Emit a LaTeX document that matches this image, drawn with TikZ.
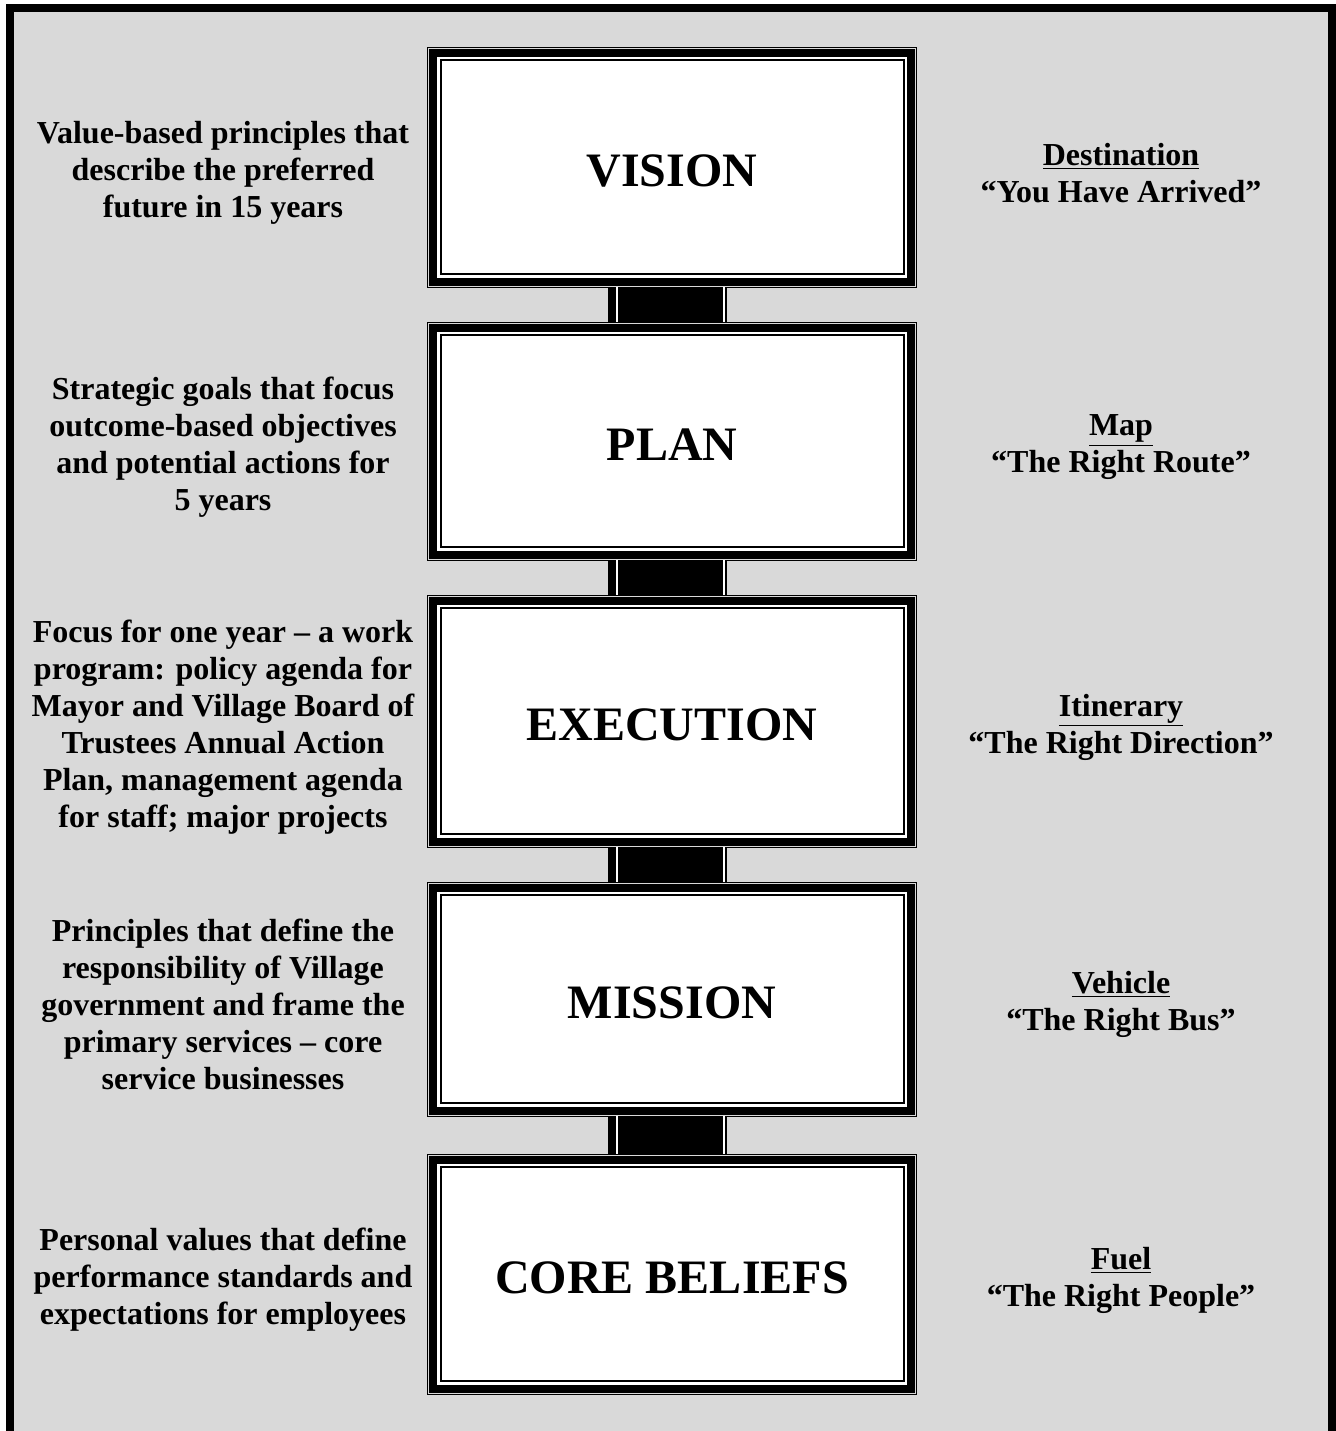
\documentclass[tikz,border=0pt]{standalone}
\usepackage{fontspec}
\setmainfont{Liberation Serif}
\usetikzlibrary{positioning}
\definecolor{panel}{HTML}{D9D9D9}
\tikzset{
    sign/.style={draw, line width=4pt, fill=white, outer sep=0pt, minimum width=239pt,
        minimum height=#1, text height=19.9pt, font=\fontsize{24}{28}\selectfont\bfseries},
    side/.style={align=center, inner sep=0pt, font=\fontsize{16}{18.5}\selectfont\bfseries},
}
\begin{document}
\begin{tikzpicture}[x=0.5pt, y=-0.5pt, node distance=23pt]
        \useasboundingbox (0,0) rectangle (1336,1431);
        \draw [line width=4pt, fill=panel] (10,8) rectangle (1332,1460);
        \node [sign=114.5pt] (vision) at (672,167) {VISION};
        \node [sign=113.5pt, below=of vision] (plan) {PLAN};
        \node [sign=120.5pt, below=of plan] (execution) {EXECUTION};
        \node [sign=111.5pt, below=of execution] (mission) {MISSION};
        \node [sign=114.5pt, below=24.5pt of mission] (beliefs) {CORE BELIEFS};
        \foreach \n in {vision, plan, execution, mission, beliefs} {%
            \draw [line width=.5pt] ([shift={(-2.75pt,2.75pt)}]\n.north west) rectangle ([shift={(2.75pt,-2.75pt)}]\n.south east);
            \draw [line width=1pt] ([shift={(3.75pt,-3.75pt)}]\n.north west) rectangle ([shift={(-3.75pt,3.75pt)}]\n.south east);
        }
        \foreach \a/\b in {vision/plan, plan/execution, execution/mission, mission/beliefs} {%
            \fill ([shift={(-32pt,-2.75pt)}]\a.south) rectangle ([shift={(27.5pt,2.75pt)}]\b.north);
            \draw [white, line width=1pt] ([shift={(-27.5pt,-2.75pt)}]\a.south) -- ([shift={(-27.5pt,2.75pt)}]\b.north);
            \draw [white, line width=1pt] ([shift={(26pt,-2.75pt)}]\a.south) -- ([shift={(26pt,2.75pt)}]\b.north);
        }
        \node [side] (visionL) at ([shift={(-224.5pt,-3pt)}]vision.center) {Value-based principles that\\describe the preferred\\future in 15 years};
        \node [side] (visionR) at ([shift={(224.5pt,-3pt)}]vision.center) {\underline{Destination}\\“You Have Arrived”};
        \node [side] (planL) at ([shift={(-224.5pt,-3pt)}]plan.center) {Strategic goals that focus\\outcome-based objectives\\and potential actions for\\5 years};
        \node [side] (planR) at ([shift={(224.5pt,-3pt)}]plan.center) {\underline{Map}\\“The Right Route”};
        \node [side] (executionL) at ([shift={(-224.5pt,-3pt)}]execution.center) {Focus for one year – a work\\program: policy agenda for\\Mayor and Village Board of\\Trustees Annual Action\\Plan, management agenda\\for staff; major projects};
        \node [side] (executionR) at ([shift={(224.5pt,-3pt)}]execution.center) {\underline{Itinerary}\\“The Right Direction”};
        \node [side] (missionL) at ([shift={(-224.5pt,-2.5pt)}]mission.center) {Principles that define the\\responsibility of Village\\government and frame the\\primary services – core\\service businesses};
        \node [side] (missionR) at ([shift={(224.5pt,-2.5pt)}]mission.center) {\underline{Vehicle}\\“The Right Bus”};
        \node [side] (beliefsL) at ([shift={(-224.5pt,-3pt)}]beliefs.center) {Personal values that define\\performance standards and\\expectations for employees};
        \node [side] (beliefsR) at ([shift={(224.5pt,-3pt)}]beliefs.center) {\underline{Fuel}\\“The Right People”};
    \end{tikzpicture}
\end{document}
